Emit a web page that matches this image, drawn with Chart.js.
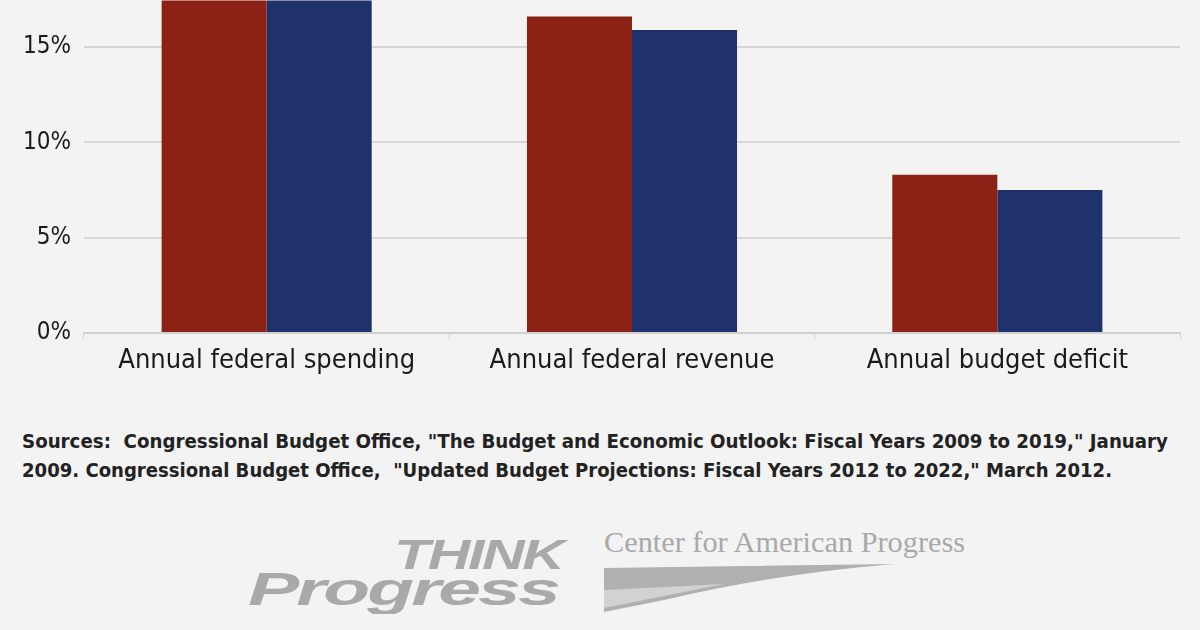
<!DOCTYPE html>
<html>
<head>
<meta charset="utf-8">
<script src="https://cdn.jsdelivr.net/npm/chart.js@4"></script>
<style>
  html,body{margin:0;padding:0;background:#f3f3f3;width:1200px;height:630px;overflow:hidden;position:relative;}
  #wrap{position:absolute;left:0;top:0;width:1200px;height:440px;}
  .src{position:absolute;left:22px;font-family:"DejaVu Sans Condensed","Liberation Sans Narrow",sans-serif;font-weight:bold;font-size:19.5px;color:#222;white-space:nowrap;transform-origin:left top;}
  .think{position:absolute;font-family:"Liberation Sans","DejaVu Sans",sans-serif;font-weight:900;font-style:italic;color:#a9a9a9;white-space:nowrap;letter-spacing:-2px;transform-origin:left top;}
  .cap{position:absolute;left:604px;top:526px;font-family:"Liberation Serif","DejaVu Serif",serif;font-size:29px;color:#a9a9a9;white-space:nowrap;transform-origin:left top;transform:scaleX(1.045);}
</style>
</head>
<body>
<div id="wrap"><canvas id="c" width="1200" height="440"></canvas></div>
<div class="src" id="s1" style="top:430px;">Sources:&nbsp; Congressional Budget Office, "The Budget and Economic Outlook: Fiscal Years 2009 to 2019," January</div>
<div class="src" id="s2" style="top:459px;">2009. Congressional Budget Office,&nbsp; "Updated Budget Projections: Fiscal Years 2012 to 2022," March 2012.</div>
<div class="think" style="left:394px;top:530px;font-size:50px;transform:scale(1.18,0.85);">THINK</div>
<div class="think" style="left:248px;top:562px;font-size:54px;transform:scale(1.42,0.85);">Progress</div>
<div class="cap">Center for American Progress</div>
<svg style="position:absolute;left:604px;top:560px;" width="300" height="55">
  <path d="M0,8 L290,4 Q170,14 60,40 L0,52 Z" fill="#b0b0b0"/>
  <path d="M0,30 L120,24 Q60,36 0,48 Z" fill="#f3f3f3" opacity="0.5"/>
</svg>
<script>
const categories = ["Annual federal spending", "Annual federal revenue", "Annual budget deficit"];
const series2009 = [24.4, 16.6, 8.3];
const series2012 = [23.9, 15.9, 7.5];
const yTicks = [0, 5, 10, 15];
const yMax = 17.45;

const FONT = '"DejaVu Sans Condensed","Liberation Sans Narrow",sans-serif';

const shiftPlugin = {
  id: 'shift',
  afterLayout(chart) {
    const a = chart.chartArea;
    document.getElementById('wrap').style.top = (-a.top) + 'px';
  }
};

new Chart(document.getElementById('c'), {
  type: 'bar',
  data: {
    labels: categories,
    datasets: [
      {label: 'CBO 2009', data: series2009, backgroundColor: '#8c2115', borderWidth: 0},
      {label: 'CBO 2012', data: series2012, backgroundColor: '#1f326b', borderWidth: 0}
    ]
  },
  plugins: [shiftPlugin],
  options: {
    responsive: false,
    animation: false,
    layout: {padding: {left: 0, right: 20, top: 0, bottom: 0}},
    plugins: {legend: {display: false}, tooltip: {enabled: false}},
    datasets: {bar: {categoryPercentage: 0.575, barPercentage: 1.0}},
    scales: {
      x: {
        offset: true,
        grid: {display: true, drawOnChartArea: false, drawTicks: true, tickLength: 6, color: '#d0d0d0', offset: true},
        border: {display: true, color: '#cfcfcf', width: 2},
        ticks: {color: '#1a1a1a', padding: 6, font: {family: FONT, size: 27}},
        afterFit: s => { s.height = 80; }
      },
      y: {
        min: 0, max: yMax,
        afterBuildTicks: s => { s.ticks = yTicks.map(v => ({value: v})); },
        grid: {color: '#d6d6d6', lineWidth: 2, drawTicks: false},
        border: {display: false},
        ticks: {color: '#1a1a1a', padding: 13, includeBounds: false,
          font: {family: FONT, size: 24},
          callback: v => v + '%'},
        afterFit: s => { s.width = 84; }
      }
    }
  }
});

function fit(id, w) {
  const el = document.getElementById(id);
  const cur = el.getBoundingClientRect().width;
  el.style.transform = 'scaleX(' + (w / cur) + ')';
}
fit('s1', 1146);
fit('s2', 1090);
</script>
</body>
</html>
